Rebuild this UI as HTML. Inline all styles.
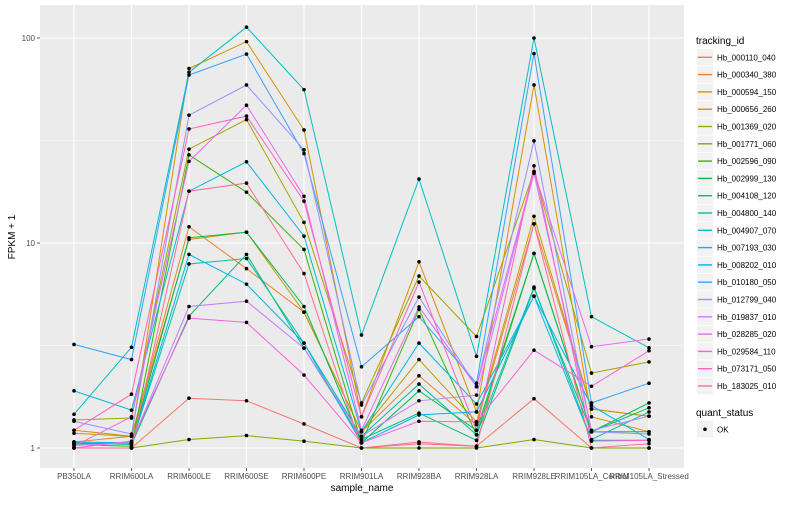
<!DOCTYPE html>
<html><head><meta charset="utf-8"><style>
body{margin:0;background:#fff;}
svg{font-family:"Liberation Sans",sans-serif;}
</style></head><body>
<svg id="chart" width="800" height="500"></svg>
<script>
const categories=["PB350LA","RRIM600LA","RRIM600LE","RRIM600SE","RRIM600PE","RRIM901LA","RRIM928BA","RRIM928LA","RRIM928LE","RRIM105LA_Control","RRIM105LA_Stressed"];
const seriesNames=["Hb_000110_040","Hb_000340_380","Hb_000594_150","Hb_000656_260","Hb_001369_020","Hb_001771_060","Hb_002596_090","Hb_002999_130","Hb_004108_120","Hb_004800_140","Hb_004907_070","Hb_007193_030","Hb_008202_010","Hb_010180_050","Hb_012799_040","Hb_019837_010","Hb_028285_020","Hb_029584_110","Hb_073171_050","Hb_183025_010"];
const seriesColors=["#F8766D","#EA8331","#D89000","#C09B00","#A3A500","#7CAE00","#39B600","#00BB4E","#00BF7D","#00C1A3","#00BFC4","#00BAE0","#00B0F6","#35A2FF","#9590FF","#C77CFF","#E76BF3","#FA62DB","#FF62BC","#FF6C91"];
const s00=[1,1,1.75,1.7,1.31,1,1.05,1.02,1.74,1.0,1.0];
const s01=[1.07,1.14,12,7.5,4.6,1.2,2.25,1.3,12.4,1.55,1.43];
const s02=[1.22,1.14,71,96,35.6,1.42,8.1,1.5,59,1.42,1.2];
const s03=[1.18,1.14,10.4,11.3,4.6,1.2,2.7,1.34,13.5,1.55,1.43];
const s04=[1.37,1.4,28.7,40,12.6,1.66,6.9,3.5,22.3,2.32,2.63];
const s05=[1,1,1.1,1.15,1.08,1,1,1,1.1,1,1];
const s06=[1.04,1.02,26.9,17.7,9.3,1.06,4.75,1.16,8.9,1.2,1.2];
const s07=[1.05,1.06,10.6,11.3,4.9,1.06,1.9,1.22,8.9,1.2,1.66];
const s08=[1.06,1.04,4.4,8.8,3.07,1.1,1.48,1.09,6.0,1.2,1.57];
const s09=[1.05,1.05,7.9,8.4,3.25,1.14,2.05,1.16,6.1,1.1,1.5];
const s10=[1.46,3.1,68,113,56,3.56,20.5,2.8,100,4.37,3.08];
const s11=[1.9,1.53,17.9,24.9,10.8,1.2,3.25,1.64,5.5,1.09,1.09];
const s12=[1.07,1.06,8.8,6.3,3.25,1.06,1.45,1.5,5.5,1.61,1.1];
const s13=[3.2,2.7,66,83.5,27.3,2.49,4.37,2.07,84,1.66,2.07];
const s14=[1.35,1.17,42,59,28.5,1.62,5.45,1.99,31.5,1.2,1.17];
const s15=[1.03,1.06,4.9,5.2,3.07,1.14,1.7,1.81,21.9,1.22,1.43];
const s16=[1.02,1.42,25,47,16.9,1.22,4.88,1.99,22.3,3.12,3.4];
const s17=[1.0,1.08,4.3,4.1,2.27,1.06,1.35,1.34,3.0,2.0,2.98];
const s18=[1.22,1.83,36,41.6,16,1.42,6.45,1.22,23.8,1.08,1.09];
const s19=[1.0,1.0,17.9,19.6,7.1,1.0,1.07,1.02,12.4,1.0,1.05];
const seriesValues=[s00,s01,s02,s03,s04,s05,s06,s07,s08,s09,s10,s11,s12,s13,s14,s15,s16,s17,s18,s19];
const yTicks=[1,10,100];
const yTickLabels=["1","10","100"];

const NS="http://www.w3.org/2000/svg";
const svg=document.getElementById('chart');
const PL=40,PR=684,PT=5,PB=468;
function xScale(i){return 74+i*57.5;}
function yScale(v){return 448-Math.log10(v)*205;}
function el(tag,attrs,parent){const e=document.createElementNS(NS,tag);for(const k in attrs)e.setAttribute(k,attrs[k]);(parent||svg).appendChild(e);return e;}

const panel=el('rect',{x:PL,y:PT,width:PR-PL,height:PB-PT,fill:'#EBEBEB'});


for(let k=0;k<2;k++){const y=yScale(Math.pow(10,k+0.5));const g=el('line',{x1:PL,x2:PR,y1:y,y2:y,stroke:'#fff','stroke-width':0.5});

}
yTicks.forEach((t,i)=>{const y=yScale(t);
const g=el('line',{x1:PL,x2:PR,y1:y,y2:y,stroke:'#fff','stroke-width':1.1});


const tk=el('line',{x1:PL-3,x2:PL,y1:y,y2:y,stroke:'#333','stroke-width':0.8});


const tx=el('text',{x:PL-5,y:y+3,'text-anchor':'end','font-size':8,fill:'#4D4D4D'});tx.textContent=yTickLabels[i];

});
categories.forEach((c,i)=>{const x=xScale(i);
const g=el('line',{x1:x,x2:x,y1:PT,y2:PB,stroke:'#fff','stroke-width':1.1});


const tk=el('line',{x1:x,x2:x,y1:PB,y2:PB+3,stroke:'#333','stroke-width':0.8});


const tx=el('text',{x:x,y:PB+11,'text-anchor':'middle','font-size':8,fill:'#4D4D4D'});tx.textContent=c;

});
seriesValues.forEach((vals,si)=>{
const pts=vals.map((v,i)=>xScale(i).toFixed(1)+','+yScale(v).toFixed(1)).join(' ');
const pl=el('polyline',{points:pts,fill:'none',stroke:seriesColors[si],'stroke-width':1});

});
seriesValues.forEach((vals)=>{vals.forEach((v,i)=>{
const p=el('circle',{cx:xScale(i),cy:yScale(v),r:1.8,fill:'#000'});

});});
const xt=el('text',{x:362,y:491,'text-anchor':'middle','font-size':10,fill:'#000'});xt.textContent='sample_name';


const yt=el('text',{x:15,y:237,'text-anchor':'middle','font-size':10,fill:'#000',transform:'rotate(-90 15 237)'});yt.textContent='FPKM + 1';


const lt=el('text',{x:696,y:44,'font-size':10,fill:'#000'});lt.textContent='tracking_id';


seriesNames.forEach((n,i)=>{const y=49+i*17.3;
const b=el('rect',{x:697,y:y,width:16,height:16.5,fill:'#F2F2F2'});


const l=el('line',{x1:698,x2:712,y1:y+8.3,y2:y+8.3,stroke:seriesColors[i],'stroke-width':1.4});


const t=el('text',{x:717,y:y+11.3,'font-size':8,fill:'#000'});t.textContent=n;

});
const qt=el('text',{x:696,y:416,'font-size':10,fill:'#000'});qt.textContent='quant_status';


const qb=el('rect',{x:697,y:421,width:16,height:16.5,fill:'#F2F2F2'});


const qd=el('circle',{cx:705,cy:429.3,r:1.8,fill:'#000'});


const qx=el('text',{x:717,y:432.3,'font-size':8,fill:'#000'});qx.textContent='OK';


</script>
</body></html>
